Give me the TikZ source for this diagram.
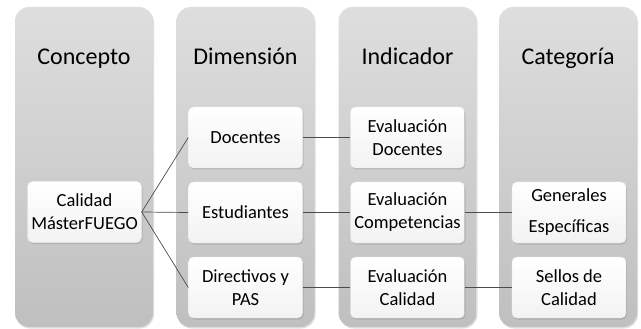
\documentclass[tikz,border=0pt]{standalone}
\usepackage{fontspec}
\setmainfont{Carlito}
\usetikzlibrary{shadows,shadings}
\begin{document}
\begin{tikzpicture}[x=1pt,y=-1pt,
  colbox/.style={rounded corners=14pt, minimum width=138pt, minimum height=320pt,
    top color=black!13, bottom color=black!25, draw=none,
    drop shadow={opacity=0.25, shadow xshift=1pt, shadow yshift=-1.5pt}},
  itembox/.style={rounded corners=5pt, minimum width=114pt, minimum height=61pt,
    top color=white, bottom color=black!5, draw=black!8, line width=0.4pt,
    align=center, font=\fontsize{18.5}{23}\selectfont,
    drop shadow={opacity=0.3, shadow xshift=1pt, shadow yshift=-1.5pt}},
  header/.style={anchor=base, font=\fontsize{24}{28}\selectfont},
  link/.style={draw=black!70, line width=0.7pt}]
\useasboundingbox (0,0) rectangle (641,329);
% columns
\node[colbox] (c1) at (84,167) {};
\node[colbox] (c2) at (245.5,167) {};
\node[colbox] (c3) at (407.5,167) {};
\node[colbox] (c4) at (568,167) {};
% headers
\node[header] (h1) at (84,65) {Concepto};
\node[header] (h2) at (245.5,65) {Dimensión};
\node[header] (h3) at (407.5,65) {Indicador};
\node[header] (h4) at (568,65) {Categoría};
% items
\node[itembox] (cal) at (84.5,212) {Calidad\\MásterFUEGO};
\node[itembox] (doc) at (245.5,137.5) {Docentes};
\node[itembox] (est) at (245.5,212.5) {Estudiantes};
\node[itembox] (dir) at (245.5,287.5) {Directivos y\\PAS};
\node[itembox] (evd) at (407.5,137.5) {Evaluación\\Docentes};
\node[itembox] (evc) at (407.5,212.5) {Evaluación\\Competencias};
\node[itembox] (evq) at (407.5,287.5) {Evaluación\\Calidad};
\node[itembox, font=\fontsize{18.5}{31}\selectfont] (gen) at (569,212.5) {Generales\\Específicas};
\node[itembox] (sel) at (569,287.5) {Sellos de\\Calidad};
% links
\draw[link] (cal.east) -- (doc.west);
\draw[link] (cal.east) -- (est.west);
\draw[link] (cal.east) -- (dir.west);
\draw[link] (doc.east) -- (evd.west);
\draw[link] (est.east) -- (evc.west);
\draw[link] (dir.east) -- (evq.west);
\draw[link] (evc.east) -- (gen.west);
\draw[link] (evq.east) -- (sel.west);
\end{tikzpicture}
\end{document}
